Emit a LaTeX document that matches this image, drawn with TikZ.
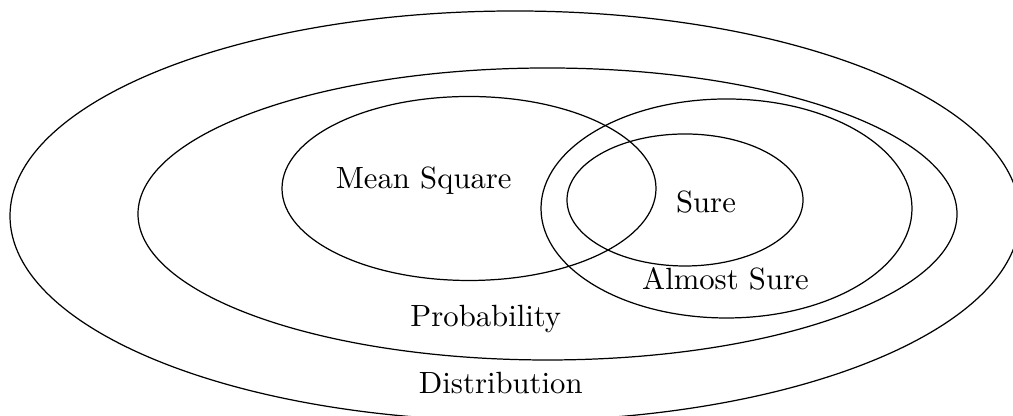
\documentclass[tikz,border=0pt]{standalone}
\begin{document}
\begin{tikzpicture}[x=0.3257pt,y=0.3257pt,
  region/.style={draw=black,line width=0.4pt},
  lab/.style={anchor=base,inner sep=0pt,font=\normalsize}]
\clip (0,0) rectangle (1013,416);
\draw[region] (515,200) ellipse [x radius=505, y radius=205];
\draw[region] (547.5,202) ellipse [x radius=409.5, y radius=146];
\draw[region] (469,227.5) ellipse [x radius=187, y radius=92];
\draw[region] (726.5,207.5) ellipse [x radius=185.5, y radius=109.5];
\draw[region] (685,216) ellipse [x radius=118, y radius=66];
\node[lab] (ms) at (423.7,227) {Mean Square};
\node[lab] (sure) at (706,203.7) {Sure};
\node[lab] (as) at (725.5,126.7) {Almost Sure};
\node[lab] (prob) at (485.8,89.5) {Probability};
\node[lab] (dist) at (500.8,22) {Distribution};
\end{tikzpicture}
\end{document}
